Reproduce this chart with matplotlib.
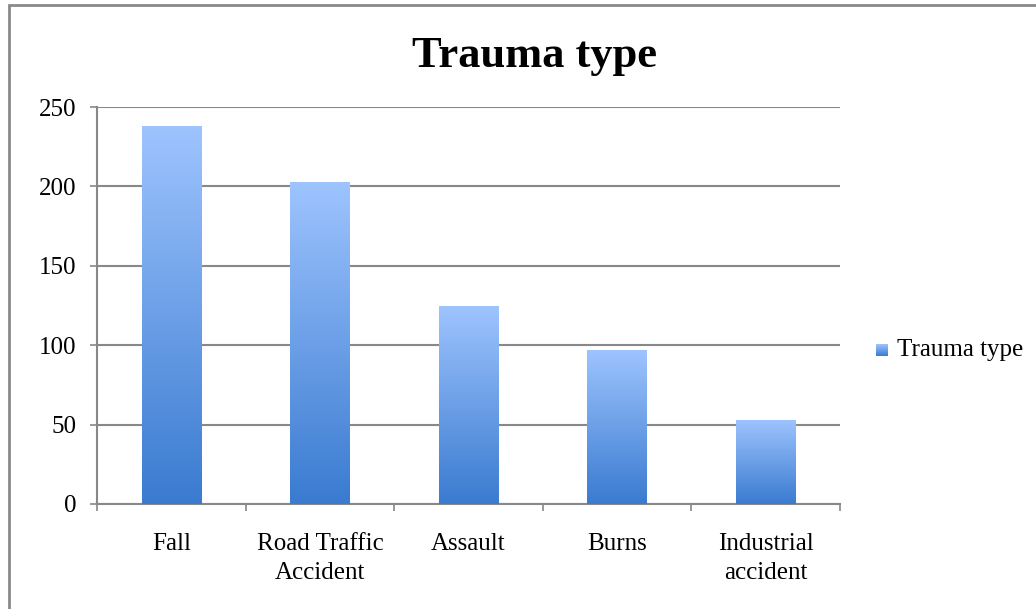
import matplotlib
matplotlib.use("Agg")
import matplotlib.pyplot as plt
import numpy as np
from matplotlib.patches import Rectangle
from matplotlib.colors import LinearSegmentedColormap

categories = ["Fall", "Road Traffic\nAccident", "Assault", "Burns", "Industrial\naccident"]
values = [238, 203, 125, 97, 53]
yticks = [0, 50, 100, 150, 200, 250]
series_name = "Trauma type"

plt.rcParams['font.family'] = ['Liberation Serif', 'DejaVu Serif']

W, H = 1036, 609
fig = plt.figure(figsize=(W/100, H/100), dpi=100)
ax = fig.add_axes([97/W, 1-504/H, (840-97)/W, (504-107)/H])

fig.patches.append(Rectangle((9/W, -0.1), 1.2, (1 - 5/H) + 0.1, transform=fig.transFigure,
                             fill=False, edgecolor='#8a8a8a', linewidth=2.0))

cmap = LinearSegmentedColormap.from_list('g', ['#3a7bd0', '#9ec4fe'])
x = np.arange(len(categories))
bars = ax.bar(x, values, width=0.4, color='#7aa8ee', zorder=3)
grad = np.linspace(0, 1, 256).reshape(-1, 1)
for b in bars:
    b.set_alpha(0)
    x0, w, h = b.get_x(), b.get_width(), b.get_height()
    im = ax.imshow(grad, extent=(x0, x0 + w, 0, h), origin='lower', cmap=cmap,
                   aspect='auto', zorder=3, interpolation='bicubic')
    clip = Rectangle((x0, 0), w, h, transform=ax.transData)
    im.set_clip_path(clip)

ax.set_xlim(-0.5, len(categories) - 0.5)
ax.set_ylim(0, 250)
ax.set_yticks(yticks)
ax.set_yticklabels([str(t) for t in yticks], fontsize=18)
ax.set_xticks(x)
ax.set_xticklabels(categories, fontsize=18, linespacing=1.42)
ax.tick_params(axis='x', length=0, pad=21)
ax.set_xticks(np.arange(-0.5, len(categories), 1), minor=True)
ax.tick_params(axis='x', which='minor', length=5, width=1.2, color='#888888', direction='out')
ax.tick_params(axis='y', length=5, width=1.2, color='#888888', direction='out', pad=10)
ax.yaxis.grid(True, color='#888888', linewidth=1.5, zorder=1)
ax.set_axisbelow(True)
for s in ['top', 'right']:
    ax.spines[s].set_visible(False)
for s in ['left', 'bottom']:
    ax.spines[s].set_color('#888888')
    ax.spines[s].set_linewidth(1.5)

fig.text(534/W, 1-56/H, "Trauma type", ha='center', va='center',
         fontsize=32, fontweight='bold')

# legend
lg = np.linspace(0, 1, 64).reshape(-1, 1)
lax = fig.add_axes([876/W, 1-356/H, 12/W, 12/H])
lax.imshow(lg, origin='lower', cmap=cmap, aspect='auto', extent=(0, 1, 0, 1))
lax.set_axis_off()
fig.text(897/W, 1-350/H, series_name, ha='left', va='center', fontsize=18)

fig.savefig("out.png", dpi=100)
